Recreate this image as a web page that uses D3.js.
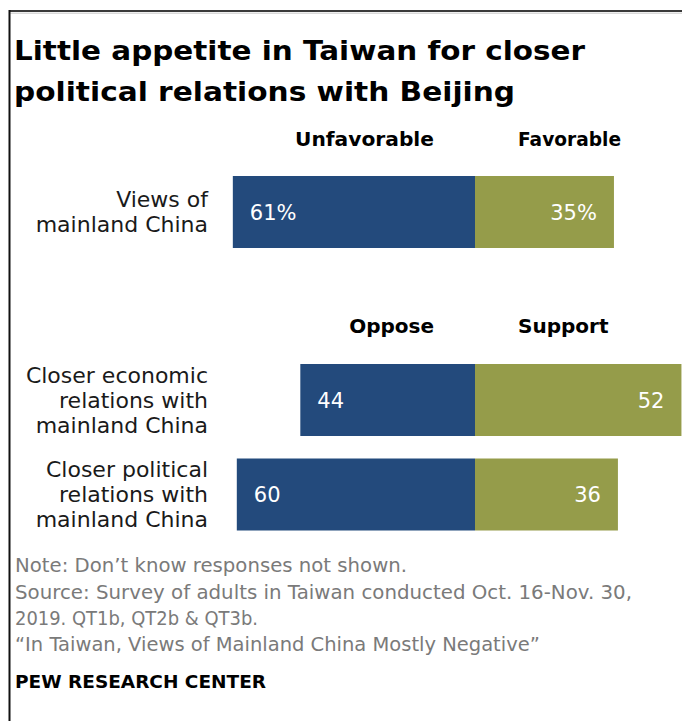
<!DOCTYPE html>
<html>
<head>
<meta charset="utf-8">
<script src="https://cdn.jsdelivr.net/npm/d3@7"></script>
<style>
  html, body { margin: 0; padding: 0; background: #fff; }
  svg { display: block; }
  text { font-family: "DejaVu Sans", "Liberation Sans", Arial, sans-serif; }
</style>
</head>
<body>
<script>
// ---- data ----
const categories = [
  ["Views of", "mainland China"],
  ["Closer economic", "relations with", "mainland China"],
  ["Closer political", "relations with", "mainland China"]
];
const negativeValues = [61, 44, 60];
const positiveValues = [35, 52, 36];
const valueSuffix = ["%", "", ""];
const headerPairs = [["Unfavorable", "Favorable"], ["Oppose", "Support"]];
const titleLines = ["Little appetite in Taiwan for closer", "political relations with Beijing"];
const noteLines = [
  "Note: Don\u2019t know responses not shown.",
  "Source: Survey of adults in Taiwan conducted Oct. 16-Nov. 30,",
  "2019. QT1b, QT2b & QT3b.",
  "\u201CIn Taiwan, Views of Mainland China Mostly Negative\u201D"
];
const creditText = "PEW RESEARCH CENTER";

// ---- layout ----
const W = 682, H = 721;
const center = 475;
const blue = "#234A7C", green = "#959C4A";
const svg = d3.select("body").append("svg").attr("width", W).attr("height", H);
svg.append("rect").attr("width", W).attr("height", H).attr("fill", "#fff");

// frame
svg.append("line").attr("x1", 9).attr("x2", W).attr("y1", 11).attr("y2", 11)
  .attr("stroke", "#3a3a3a").attr("stroke-width", 2.2);
svg.append("line").attr("x1", 9).attr("x2", W).attr("y1", 13.2).attr("y2", 13.2)
  .attr("stroke", "#bbb").attr("stroke-width", 0.8);
svg.append("line").attr("x1", 9.5).attr("x2", 9.5).attr("y1", 10).attr("y2", H)
  .attr("stroke", "#111").attr("stroke-width", 2);

function fit(sel, w) {
  sel.each(function() {
    const n = this.getComputedTextLength();
    if (Math.abs(n - w) > 1) d3.select(this).attr("textLength", w).attr("lengthAdjust", "spacingAndGlyphs");
  });
}

// title
const titleW = [571, 501];
titleLines.forEach((t, i) => {
  svg.append("text").attr("x", 14).attr("y", 60 + i * 41)
    .attr("font-size", 27).attr("font-weight", "bold").attr("fill", "#000")
    .text(t).call(fit, titleW[i]);
});

// scales
const x = d3.scaleLinear().domain([0, 100]).range([0, 397]);
const rowCenters = [212, 400, 494.5];
const barH = 72;
const y = d3.scaleOrdinal().domain(d3.range(categories.length)).range(rowCenters);

// headers
const headerY = [146, 333];
const headerW = [[139, 103], [84, 90]];
headerPairs.forEach((p, i) => {
  svg.append("text").attr("x", center - 41).attr("y", headerY[i]).attr("text-anchor", "end")
    .attr("font-size", 20).attr("font-weight", "bold").text(p[0]).call(fit, headerW[i][0]);
  svg.append("text").attr("x", center + 43).attr("y", headerY[i]).attr("text-anchor", "start")
    .attr("font-size", 20).attr("font-weight", "bold").text(p[1]).call(fit, headerW[i][1]);
});

const rows = d3.range(categories.length);
// bars
svg.selectAll("rect.neg").data(rows).join("rect").attr("class", "neg")
  .attr("x", i => center - x(negativeValues[i])).attr("width", i => x(negativeValues[i]))
  .attr("y", i => y(i) - barH / 2).attr("height", barH).attr("fill", blue);
svg.selectAll("rect.pos").data(rows).join("rect").attr("class", "pos")
  .attr("x", center).attr("width", i => x(positiveValues[i]))
  .attr("y", i => y(i) - barH / 2).attr("height", barH).attr("fill", green);

// value labels
svg.selectAll("text.negv").data(rows).join("text").attr("class", "negv")
  .attr("x", i => center - x(negativeValues[i]) + 17).attr("y", i => y(i) + 7.5)
  .attr("font-size", 21).attr("fill", "#fff")
  .text(i => negativeValues[i] + valueSuffix[i]);
svg.selectAll("text.posv").data(rows).join("text").attr("class", "posv")
  .attr("x", i => center + x(positiveValues[i]) - 17).attr("y", i => y(i) + 7.5)
  .attr("text-anchor", "end").attr("font-size", 21).attr("fill", "#fff")
  .text(i => positiveValues[i] + valueSuffix[i]);

// category labels
const lineH = 25;
categories.forEach((lines, i) => {
  const t = svg.append("text").attr("text-anchor", "end").attr("font-size", 22).attr("fill", "#1a1a1a");
  const n = lines.length;
  lines.forEach((l, j) => {
    t.append("tspan").attr("x", 208)
      .attr("y", y(i) + (j - (n - 1) / 2) * lineH + 7.5).text(l);
  });
});

// notes
const noteY = [572, 599, 625, 651];
const noteW = [392, 617, 243, 525];
noteLines.forEach((t, i) => {
  svg.append("text").attr("x", 15).attr("y", noteY[i]).attr("font-size", 19.5)
    .attr("fill", "#7a7a7a").text(t).call(fit, noteW[i]);
});
svg.append("text").attr("x", 15).attr("y", 688).attr("font-size", 17.5)
  .attr("font-weight", "bold").attr("fill", "#000").text(creditText).call(fit, 251);
</script>
</body>
</html>
